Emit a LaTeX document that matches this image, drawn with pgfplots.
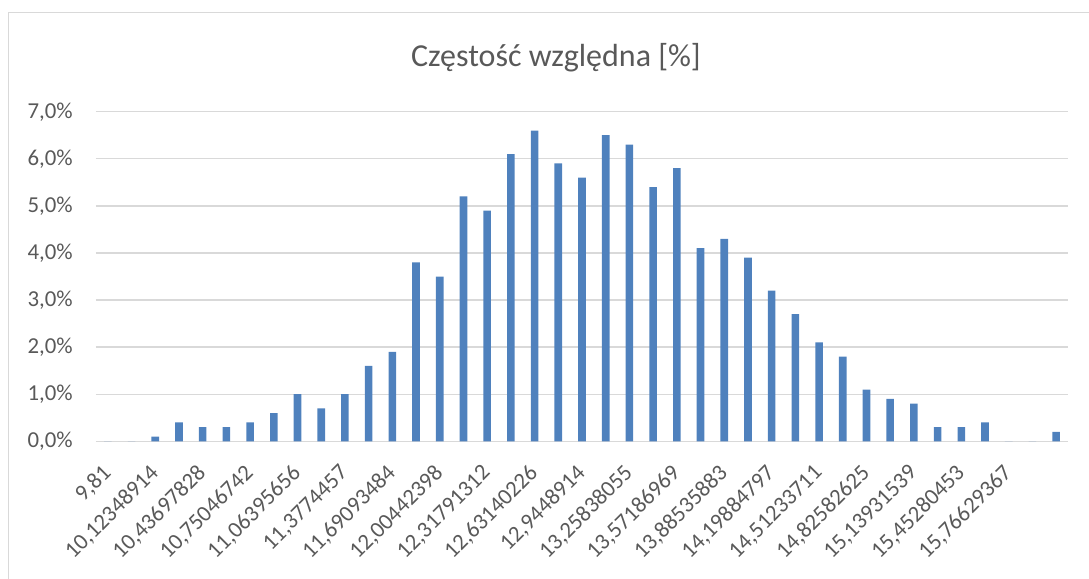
\documentclass[border=0pt]{standalone}
\usepackage{fontspec}
\setmainfont{Carlito}
\usepackage{pgfplots}
\pgfplotsset{compat=1.18}
\definecolor{barblue}{HTML}{4F81BD}
\definecolor{txtgray}{HTML}{595959}
\definecolor{gridgray}{HTML}{D9D9D9}

\begin{document}
\begin{tikzpicture}
% 1 px of the reference = 0.5pt
\useasboundingbox (0pt,0pt) rectangle (544.5pt,289.5pt);
% chart frame (only left and top edges are visible in the crop)
\draw[gridgray, line width=0.7pt] (4.25pt,0pt) -- (4.25pt,283.25pt) -- (544.5pt,283.25pt);
\node[anchor=base, text=txtgray, font=\fontsize{16}{19}\selectfont] at (278pt,256pt) {Częstość względna [\%]};

\begin{axis}[
  at={(48pt,68.85pt)}, anchor=south west,
  scale only axis,
  width=486pt, height=164.8pt,
  ybar, bar width=3.8pt,
  xmin=-0.5, xmax=40.5,
  ymin=0, ymax=7,
  ytick={0,1,...,7},
  xtick={0,2,...,38},
  xticklabels={{9,81},{10,12348914},{10,43697828},{10,75046742},{11,06395656},
    {11,3774457},{11,69093484},{12,00442398},{12,31791312},{12,63140226},
    {12,9448914},{13,25838055},{13,57186969},{13,88535883},{14,19884797},
    {14,51233711},{14,82582625},{15,13931539},{15,45280453},{15,76629367}},
  xticklabel style={rotate=45, anchor=east, inner sep=0pt, text=txtgray,
    font=\fontsize{11.4}{13}\selectfont},
  xticklabel shift=14pt,
  yticklabel={\pgfmathprintnumber[fixed,fixed zerofill,precision=1,use comma,assume math mode=true]{\tick}\%},
  yticklabel style={anchor=east, inner sep=0pt, xshift=-11.5pt, text=txtgray,
    font=\fontsize{11.4}{13}\selectfont},
  ymajorgrids=true,
  grid style={gridgray, line width=0.65pt},
  axis x line*=bottom,
  axis y line*=left,
  x axis line style={gridgray, line width=0.65pt, -},
  y axis line style={draw=none},
  major tick length=0pt,
  tick style={draw=none},
  clip=false,
]
\addplot[fill=barblue, draw=none] coordinates {
  (0,0) (1,0) (2,0.1) (3,0.4) (4,0.3) (5,0.3) (6,0.4) (7,0.6) (8,1.0) (9,0.7)
  (10,1.0) (11,1.6) (12,1.9) (13,3.8) (14,3.5) (15,5.2) (16,4.9) (17,6.1) (18,6.6) (19,5.9)
  (20,5.6) (21,6.5) (22,6.3) (23,5.4) (24,5.8) (25,4.1) (26,4.3) (27,3.9) (28,3.2) (29,2.7)
  (30,2.1) (31,1.8) (32,1.1) (33,0.9) (34,0.8) (35,0.3) (36,0.3) (37,0.4) (38,0) (39,0)
  (40,0.2)
};
\end{axis}
\end{tikzpicture}
\end{document}
